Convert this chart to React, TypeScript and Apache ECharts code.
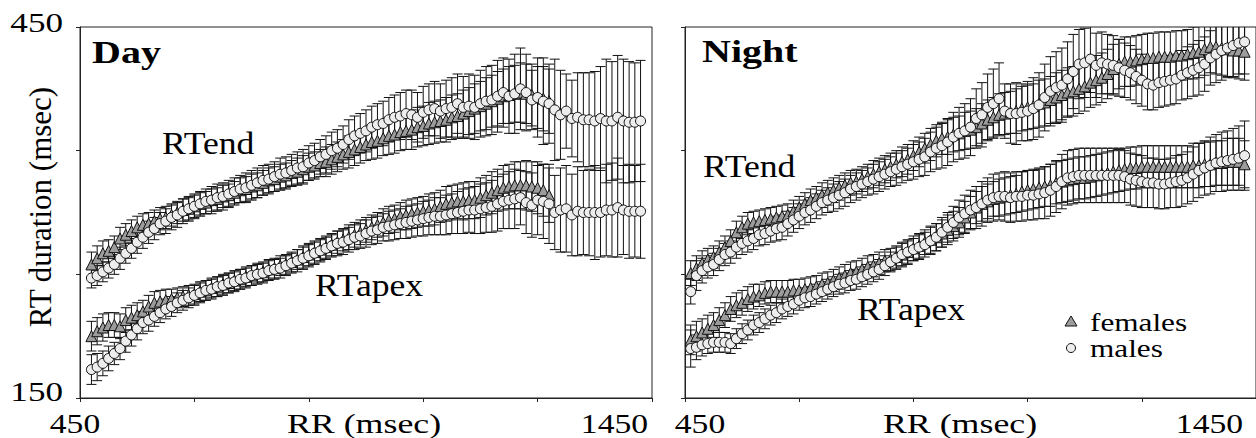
import React, { useEffect, useRef } from "react";
import * as echarts from "echarts";

// RR bins (msec)
const RR_DAY = [470,480,490,500,510,520,530,540,550,560,570,580,590,600,610,620,630,640,650,660,670,680,690,700,710,720,730,740,750,760,770,780,790,800,810,820,830,840,850,860,870,880,890,900,910,920,930,940,950,960,970,980,990,1000,1010,1020,1030,1040,1050,1060,1070,1080,1090,1100,1110,1120,1130,1140,1150,1160,1170,1180,1190,1200,1210,1220,1230,1240,1250,1260,1270,1280,1290,1300,1310,1320,1330,1340,1350,1360,1370,1380,1390,1400,1410,1420,1430];
const RR_DAY_F = [470,480,490,500,510,520,530,540,550,560,570,580,590,600,610,620,630,640,650,660,670,680,690,700,710,720,730,740,750,760,770,780,790,800,810,820,830,840,850,860,870,880,890,900,910,920,930,940,950,960,970,980,990,1000,1010,1020,1030,1040,1050,1060,1070,1080,1090,1100,1110,1120,1130,1140,1150,1160,1170,1180,1190,1200,1210,1220,1230,1240,1250,1260,1270];
const RR_NIGHT = [460,470,480,490,500,510,520,530,540,550,560,570,580,590,600,610,620,630,640,650,660,670,680,690,700,710,720,730,740,750,760,770,780,790,800,810,820,830,840,850,860,870,880,890,900,910,920,930,940,950,960,970,980,990,1000,1010,1020,1030,1040,1050,1060,1070,1080,1090,1100,1110,1120,1130,1140,1150,1160,1170,1180,1190,1200,1210,1220,1230,1240,1250,1260,1270,1280,1290,1300,1310,1320,1330,1340,1350,1360,1370,1380,1390,1400,1410,1420,1430];

// ---- Day ----
const dayEndMale = [247,249,252,255,258,263,267,271,276,280, 284,287,291,293,296,298,301,303,305,307, 309,310,312,313,315,317,319,320,322,324, 326,327,329,331,332,334,336,337,340,342, 345,347,350,352,355,359,362,364,366,369, 371,372,375,377,378,380,379,377,381,383, 384,382,384,385,388,385,386,385,388,390, 391,394,397,394,396,400,397,391,393,390, 388,383,379,382,376,377,375,375,374,376, 374,374,377,374,373,373,374];
const dayEndMaleSD = [8,8,8,8,8,9,8,8,9,9, 9,9,9,10,10,10,10,10,10,10, 10,11,11,11,11,11,11,12,12,12, 12,12,12,13,13,13,13,14,14,14, 14,15,15,15,15,16,16,16,17,17, 17,18,18,18,19,19,20,20,21,21, 22,22,23,24,24,25,26,26,27,28, 28,29,28,30,32,33,31,24,32,35, 32,41,36,30,31,36,38,38,40,42, 50,48,50,50,49,48,49];
const dayEndFemale = [258,263,267,269,272,279,282,285,288,290, 291,293,295,296,298,300,302,303,305,307, 308,310,311,313,314,316,318,319,321,322, 324,326,327,329,330,332,333,335,337,338, 340,341,343,345,347,349,351,353,355,357, 358,360,362,363,365,366,367,369,370,372, 373,374,375,377,378,380,382,384,386,388, 390,392,394,395,396,397,396,395,393,392, 390];
const dayEndFemaleSD = [10,10,10,9,9,9,9,9,9,9, 9,9,9,9,9,9,9,9,9,9, 9,9,9,9,9,9,10,10,10,10, 10,10,10,10,10,10,11,11,11,11, 11,12,12,12,12,13,13,13,13,14, 14,14,15,15,15,15,16,16,16,17, 17,17,18,18,18,19,19,20,20,21, 21,22,22,23,23,24,24,25,25,26, 26];
const dayApexMale = [173,175,178,182,186,190,196,201,206,211, 213,216,219,222,224,227,229,231,233,235, 237,238,240,241,243,244,246,247,249,250, 251,253,254,255,257,259,261,263,265,267, 269,271,273,275,276,278,280,281,283,285, 286,288,289,290,291,292,293,294,295,296, 297,297,298,299,300,301,302,302,303,304, 305,307,309,310,311,312,308,306,310,309, 307,300,302,303,298,301,300,300,300,300, 302,302,304,302,301,301,301];
const dayApexMaleSD = [12,11,10,10,9,9,9,9,9,9, 9,8,8,8,8,8,8,8,8,8, 8,8,8,8,8,8,8,8,8,8, 8,8,8,8,8,8,9,9,9,9, 9,9,9,10,10,10,10,10,11,11, 11,11,12,12,12,13,13,13,14,14, 15,15,16,16,17,18,18,19,20,20, 21,22,22,23,24,22,25,26,28,30, 32,30,34,35,33,36,34,35,38,36, 37,38,40,36,38,37,38];
const dayApexFemale = [200,204,207,209,209,208,213,215,217,220, 224,227,228,229,230,231,232,233,234,236, 237,239,240,242,243,245,246,248,249,251, 252,254,255,257,258,260,262,264,266,268, 270,272,274,276,278,280,282,284,286,288, 290,292,294,295,297,298,299,300,301,302, 303,305,307,308,309,309,310,310,312,314, 316,318,320,321,322,322,322,321,320,318, 314];
const dayApexFemaleSD = [12,11,11,10,10,10,10,10,10,9, 9,9,9,9,8,8,8,8,8,8, 8,8,8,8,8,8,8,8,8,8, 8,8,8,8,8,8,8,9,9,9, 9,9,9,9,9,10,10,10,10,10, 10,11,11,11,11,12,12,12,12,13, 13,13,14,14,14,15,15,15,16,16, 17,17,18,18,19,19,20,20,21,21, 22];

// ---- Night ----
const nightEndMale = [236,249,253,256,258,262,266,268,272,275, 277,279,282,283,285,287,288,291,294,297, 300,302,305,308,310,312,314,316,319,321, 323,325,327,329,331,333,335,337,339,341, 343,345,349,352,354,357,361,364,366,369, 376,379,385,388,392,382,380,380,381,382, 384,387,393,398,401,403,408,414,420,421, 424,419,421,420,419,417,415,413,410,407, 404,403,405,406,407,408,411,413,415,417, 420,425,428,431,433,435,437,438];
const nightEndMaleSD = [10,12,10,9,9,9,9,9,9,9, 9,9,9,9,9,10,10,10,10,10, 10,10,10,10,10,11,11,11,11,11, 11,11,12,12,12,12,13,13,13,14, 14,15,16,17,18,19,20,21,22,23, 24,26,27,28,29,22,24,25,23,24, 25,26,27,28,29,30,30,30,28,28, 27,26,25,24,24,23,22,22,22,21, 21,20,20,20,20,20,20,21,21,22, 22,22,23,24,24,25,25,26];
const nightEndFemale = [251,255,259,262,264,268,272,277,284,288, 291,292,293,294,295,296,297,298,301,304, 307,310,312,314,316,318,320,322,324,325, 327,329,331,333,335,337,339,341,343,346, 349,352,355,358,360,361,363,364,366,367, 369,372,375,377,379,380,381,382,384,385, 386,388,389,391,393,395,397,398,400,402, 405,407,409,412,416,420,422,422,423,424, 425,425,426,426,426,427,427,428,429,430, 432,434,434,433,432,431,431,430];
const nightEndFemaleSD = [10,10,10,9,9,9,9,9,9,9, 9,9,9,9,9,9,9,9,9,9, 9,9,9,10,10,10,10,10,10,10, 10,10,11,11,11,11,11,12,12,12, 12,12,13,13,13,14,14,14,15,15, 15,16,16,16,17,17,17,18,18,18, 18,19,19,19,20,20,20,20,20,20, 20,20,20,20,20,20,20,20,20,20, 20,20,20,20,20,20,20,20,21,21, 21,21,22,22,22,22,23,23];
const nightApexMale = [190,191,193,194,195,195,195,194,198,202, 205,209,211,214,217,219,222,224,226,229, 231,232,234,236,238,240,242,243,245,246, 248,250,252,254,257,260,263,266,268,270, 272,274,277,280,284,288,292,296,299,302, 304,307,310,312,313,313,312,313,313,314, 314,315,316,318,321,325,328,329,330,330, 330,330,330,330,330,330,329,327,326,325, 324,324,323,323,324,325,326,328,331,334, 336,338,340,341,342,343,344,346];
const nightApexMaleSD = [15,10,9,8,8,8,8,8,8,8, 8,8,8,8,8,8,8,8,8,8, 8,8,8,8,8,8,8,8,8,8, 8,8,8,8,8,8,9,9,9,9, 10,10,11,11,12,12,13,14,15,16, 17,18,18,19,19,20,20,20,20,20, 20,20,21,21,21,22,22,22,22,22, 22,22,22,22,22,22,21,21,21,21, 20,20,20,20,20,21,21,21,22,22, 22,23,23,24,24,25,26,28];
const nightApexFemale = [197,200,203,206,209,213,217,222,225,227, 230,232,233,235,236,236,236,236,237,237, 238,239,240,242,243,245,247,249,251,252, 254,256,257,259,261,262,264,266,268,271, 273,276,278,280,283,286,289,292,296,300, 304,307,309,311,312,313,314,315,317,318, 319,320,321,322,324,325,326,327,328,328, 329,330,331,332,333,334,335,336,336,337, 337,337,337,337,337,337,337,337,338,338, 339,339,340,340,341,341,341,339];
const nightApexFemaleSD = [12,12,11,11,10,10,10,10,10,10, 10,10,9,9,9,9,9,9,9,9, 9,9,9,9,9,9,9,9,9,9, 9,9,9,9,9,9,9,10,10,10, 10,10,11,11,11,12,12,12,13,13, 13,14,14,14,15,15,15,15,16,16, 16,16,16,17,17,17,17,17,17,17, 17,17,17,17,17,17,17,17,17,17, 17,17,17,17,17,17,17,17,18,18, 18,18,18,18,19,19,19,19];

// axis ticks / labels
const X_TICKS = [650, 850, 1050, 1250];
const Y_TICKS = [250, 350];
const X_LABELS = ["450", "1450"];
const Y_LABELS = ["450", "150"];

const SERIF = "Liberation Serif";
const CAP = 5;
const INK = "#111";

function errSeries(ai: number, rr: number[], mean: number[], sd: number[]) {
  return {
    type: "custom",
    xAxisIndex: ai,
    yAxisIndex: ai,
    clip: true,
    silent: true,
    encode: { x: 0, y: 1 },
    data: rr.map((x, i) => [x, mean[i], sd[i]]),
    renderItem: (_p: any, api: any) => {
      const x = api.value(0);
      const m = api.value(1);
      const s = api.value(2);
      const t = api.coord([x, m + s]);
      const b = api.coord([x, m - s]);
      const st = { stroke: INK, lineWidth: 1 };
      return {
        type: "group",
        children: [
          { type: "line", shape: { x1: t[0], y1: t[1], x2: b[0], y2: b[1] }, style: st },
          { type: "line", shape: { x1: t[0] - CAP, y1: t[1], x2: t[0] + CAP, y2: t[1] }, style: st },
          { type: "line", shape: { x1: b[0] - CAP, y1: b[1], x2: b[0] + CAP, y2: b[1] }, style: st },
        ],
      };
    },
  };
}

function markSeries(ai: number, rr: number[], mean: number[], female: boolean) {
  return {
    type: "scatter",
    name: female ? "females" : "males",
    xAxisIndex: ai,
    yAxisIndex: ai,
    silent: true,
    symbol: female ? "triangle" : "circle",
    symbolSize: female ? 11 : 10,
    data: rr.map((x, i) => [x, mean[i]]),
    itemStyle: {
      color: female ? "#9c9c9c" : "#ededed",
      borderColor: INK,
      borderWidth: 1,
      opacity: 1,
    },
  };
}

function txt(text: string, x: number, y: number, size: number, align: string, sx: number, bold = false, rotation = 0) {
  return {
    type: "text",
    x,
    y,
    scaleX: sx,
    rotation,
    silent: true,
    style: {
      text,
      fontFamily: SERIF,
      fontSize: size,
      fontWeight: bold ? "bold" : "normal",
      fill: "#000",
      align,
      verticalAlign: "middle",
      textAlign: align,
      textVerticalAlign: "middle",
    },
  };
}

const axisCommon = {
  axisLine: { show: true, lineStyle: { color: "#222", width: 1 } },
  axisLabel: { show: false },
  splitLine: { show: false },
};

export default function App() {
  const ref = useRef<HTMLDivElement>(null);
  useEffect(() => {
    document.body.style.margin = "0";
    if (!ref.current) return;
    const chart = echarts.init(ref.current, undefined, { renderer: "svg" });
    const grids = [
      { left: 80, top: 27, width: 572, height: 371 },
      { left: 685, top: 27, width: 572, height: 371 },
    ].map((g) => ({ ...g, show: true, borderColor: "#222", borderWidth: 1, backgroundColor: "transparent" }));

    const xAxes = [0, 1].map((i) => ({
      type: "value",
      gridIndex: i,
      min: 450,
      max: 1450,
      ...axisCommon,
      axisTick: { show: true, length: 4, inside: false, customValues: [450, ...X_TICKS, 1450], lineStyle: { color: "#222" } },
    }));
    const yAxes = [0, 1].map((i) => ({
      type: "value",
      gridIndex: i,
      min: 150,
      max: 450,
      ...axisCommon,
      axisTick: { show: true, length: 4, inside: false, customValues: [150, ...Y_TICKS, 450], lineStyle: { color: "#222" } },
    }));

    const series = [
      errSeries(0, RR_DAY_F, dayEndFemale, dayEndFemaleSD),
      markSeries(0, RR_DAY_F, dayEndFemale, true),
      errSeries(0, RR_DAY_F, dayApexFemale, dayApexFemaleSD),
      markSeries(0, RR_DAY_F, dayApexFemale, true),
      errSeries(0, RR_DAY, dayEndMale, dayEndMaleSD),
      markSeries(0, RR_DAY, dayEndMale, false),
      errSeries(0, RR_DAY, dayApexMale, dayApexMaleSD),
      markSeries(0, RR_DAY, dayApexMale, false),
      errSeries(1, RR_NIGHT, nightEndFemale, nightEndFemaleSD),
      markSeries(1, RR_NIGHT, nightEndFemale, true),
      errSeries(1, RR_NIGHT, nightApexFemale, nightApexFemaleSD),
      markSeries(1, RR_NIGHT, nightApexFemale, true),
      errSeries(1, RR_NIGHT, nightEndMale, nightEndMaleSD),
      markSeries(1, RR_NIGHT, nightEndMale, false),
      errSeries(1, RR_NIGHT, nightApexMale, nightApexMaleSD),
      markSeries(1, RR_NIGHT, nightApexMale, false),
    ];

    const graphic = [
      // y tick labels
      txt(Y_LABELS[0], 63, 23, 27, "right", 1.3),
      txt(Y_LABELS[1], 63, 392, 27, "right", 1.3),
      // x tick labels
      txt(X_LABELS[0], 75, 423, 28, "center", 1.2),
      txt(X_LABELS[1], 648, 423, 28, "right", 1.2),
      txt(X_LABELS[0], 700, 423, 28, "center", 1.2),
      txt(X_LABELS[1], 1243, 423, 28, "right", 1.2),
      // axis titles
      txt("RR (msec)", 364, 423, 28, "center", 1.28),
      txt("RR (msec)", 960, 423, 28, "center", 1.28),
      txt("RT duration (msec)", 40, 207, 31, "center", 1, false, Math.PI / 2),
      // panel titles
      txt("Day", 92, 52, 32, "left", 1.25, true),
      txt("Night", 702, 51, 32, "left", 1.25, true),
      // curve labels
      txt("RTend", 162, 143, 31, "left", 1.15),
      txt("RTapex", 315, 285, 31, "left", 1.15),
      txt("RTend", 703, 166, 31, "left", 1.15),
      txt("RTapex", 857, 309, 31, "left", 1.15),
      // legend
      {
        type: "polygon",
        silent: true,
        shape: { points: [[1065, 326], [1077, 326], [1071, 316]] },
        style: { fill: "#9c9c9c", stroke: INK, lineWidth: 1 },
      },
      {
        type: "circle",
        silent: true,
        shape: { cx: 1071, cy: 348, r: 4.5 },
        style: { fill: "#ededed", stroke: INK, lineWidth: 1 },
      },
      txt("females", 1090, 323, 25, "left", 1.25),
      txt("males", 1090, 349, 25, "left", 1.25),
    ];

    chart.setOption({
      animation: false,
      backgroundColor: "#fff",
      grid: grids,
      xAxis: xAxes,
      yAxis: yAxes,
      series,
      graphic,
    });
    return () => chart.dispose();
  }, []);
  return <div ref={ref} style={{ width: 1256, height: 438 }} />;
}
